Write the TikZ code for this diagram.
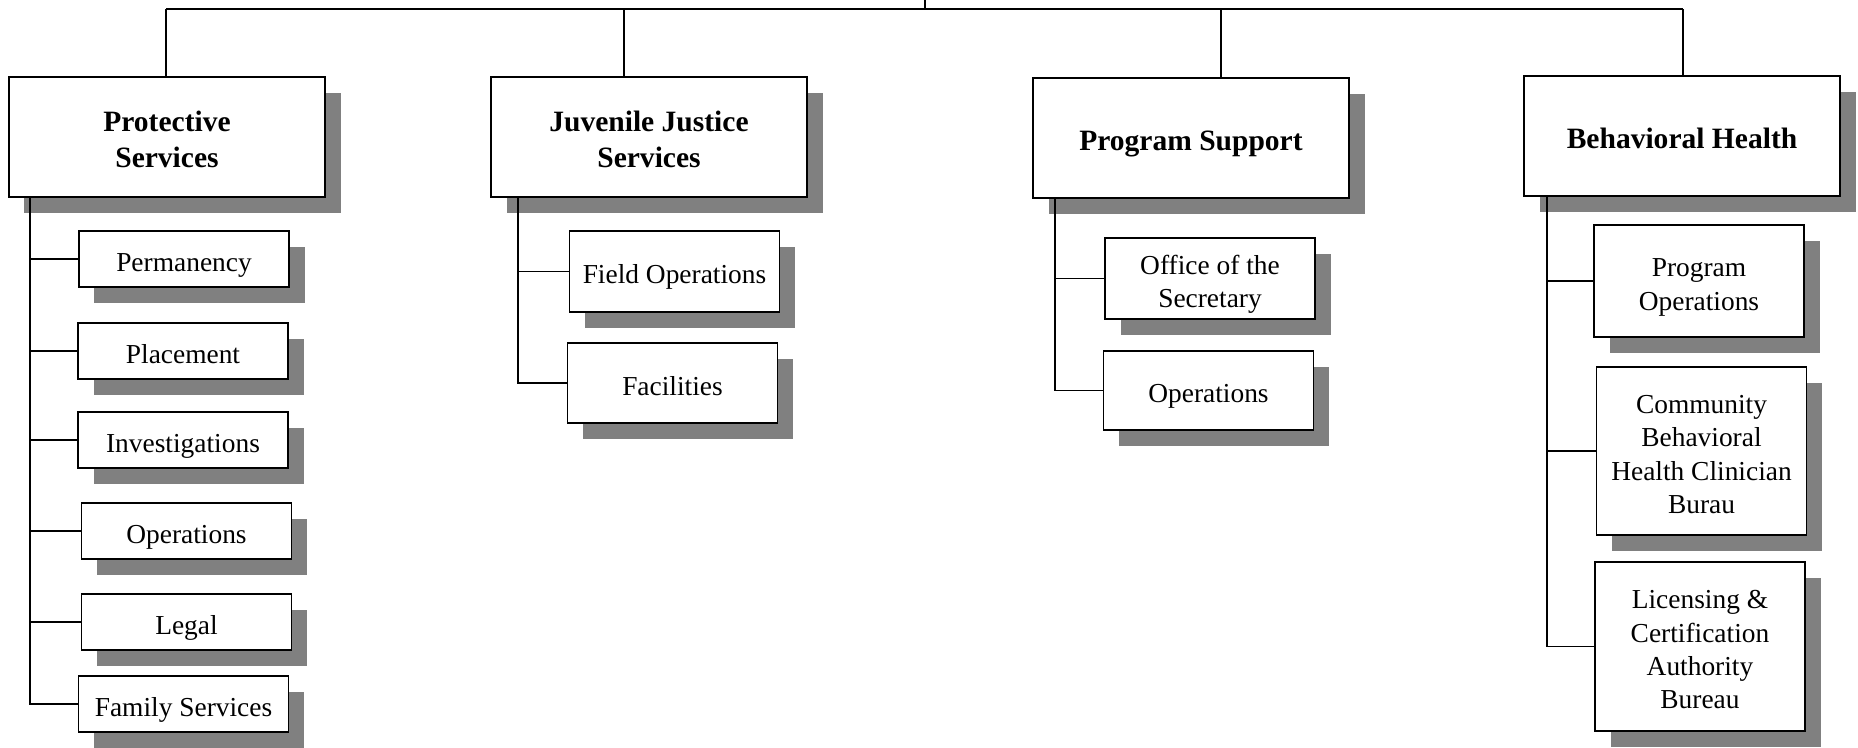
\documentclass[tikz,border=0pt]{standalone}
\usepackage{fontspec}
\setmainfont{Liberation Serif}
\usetikzlibrary{shadows}

% strut for the first line of a stacked label
\newcommand{\capline}{\rule{0pt}{8.9pt}}

\begin{document}
\begin{tikzpicture}[
        unit/.style={draw, rectangle, fill=white, line width=0.5pt, align=center, inner sep=1pt,
            execute at begin node={\capline},
            execute at end node={\rule[-1.9pt]{0pt}{1.9pt}},
            drop shadow={shadow xshift=0.155cm, shadow yshift=-0.16cm, fill=black!50, opacity=1}},
        head/.style={unit, minimum width=3.16cm, minimum height=1.2cm, font=\fontsize{8.4}{10.1}\selectfont\bfseries},
        sub/.style={unit, minimum width=2.1cm, font=\fontsize{7.8}{9.5}\selectfont}
    ]
        \useasboundingbox (0,0) rectangle (18.58,-7.47);

        % divisions
        \node[head] (prot) at (1.67,-1.37) {\capline Protective\\Services};
        \node[head] (jjs) at (6.49,-1.37) {\capline Juvenile Justice\\Services};
        \node[head] (ps) at (11.91,-1.38) {Program Support};
        \node[head] (bh) at (16.82,-1.36) {Behavioral Health};

        % protective services
        \node[sub, minimum height=0.56cm] (perm) at (1.84,-2.59) {Permanency};
        \node[sub, minimum height=0.56cm] (plac) at (1.83,-3.51) {Placement};
        \node[sub, minimum height=0.56cm] (inv) at (1.83,-4.40) {Investigations};
        \node[sub, minimum height=0.56cm] (pops) at (1.865,-5.31) {Operations};
        \node[sub, minimum height=0.56cm] (legal) at (1.865,-6.22) {Legal};
        \node[sub, minimum height=0.56cm] (fam) at (1.835,-7.04) {Family Services};

        % juvenile justice
        \node[sub, minimum height=0.81cm] (field) at (6.745,-2.715) {Field Operations};
        \node[sub, minimum height=0.80cm] (fac) at (6.725,-3.83) {Facilities};

        % program support
        \node[sub, minimum height=0.81cm] (osec) at (12.10,-2.785) {\capline Office of the\\Secretary};
        \node[sub, minimum height=0.79cm] (sops) at (12.085,-3.905) {Operations};

        % behavioral health
        \node[sub, minimum height=1.12cm] (progops) at (16.99,-2.81) {\capline Program\\Operations};
        \node[sub, minimum height=1.68cm] (cbh) at (17.015,-4.51) {\capline Community\\Behavioral\\Health Clinician\\Burau};
        \node[sub, minimum height=1.69cm] (lcab) at (17.00,-6.465) {\capline Licensing \&\\Certification\\Authority\\Bureau};

        % top bus
        \coordinate (root) at (9.25,0);
        \coordinate (bus) at (9.25,-0.09);
        \coordinate (t1) at (1.66,-0.09);
        \coordinate (t2) at (6.24,-0.09);
        \coordinate (t3) at (12.21,-0.09);
        \coordinate (t4) at (16.83,-0.09);
        \draw (root) -- (bus);
        \draw (t1) -- (t4);
        \draw (t1) -- (t1 |- prot.north);
        \draw (t2) -- (t2 |- jjs.north);
        \draw (t3) -- (t3 |- ps.north);
        \draw (t4) -- (t4 |- bh.north);

        % branches
        \coordinate (b1) at (0.30,0);
        \coordinate (b2) at (5.18,0);
        \coordinate (b3) at (10.55,0);
        \coordinate (b4) at (15.47,0);
        \draw (b1 |- prot.south) |- (perm.west);
        \draw (b1 |- prot.south) |- (plac.west);
        \draw (b1 |- prot.south) |- (inv.west);
        \draw (b1 |- prot.south) |- (pops.west);
        \draw (b1 |- prot.south) |- (legal.west);
        \draw (b1 |- prot.south) |- (fam.west);
        \draw (b2 |- jjs.south) |- (field.west);
        \draw (b2 |- jjs.south) |- (fac.west);
        \draw (b3 |- ps.south) |- (osec.west);
        \draw (b3 |- ps.south) |- (sops.west);
        \draw (b4 |- bh.south) |- (progops.west);
        \draw (b4 |- bh.south) |- (cbh.west);
        \draw (b4 |- bh.south) |- (lcab.west);
    \end{tikzpicture}
\end{document}
